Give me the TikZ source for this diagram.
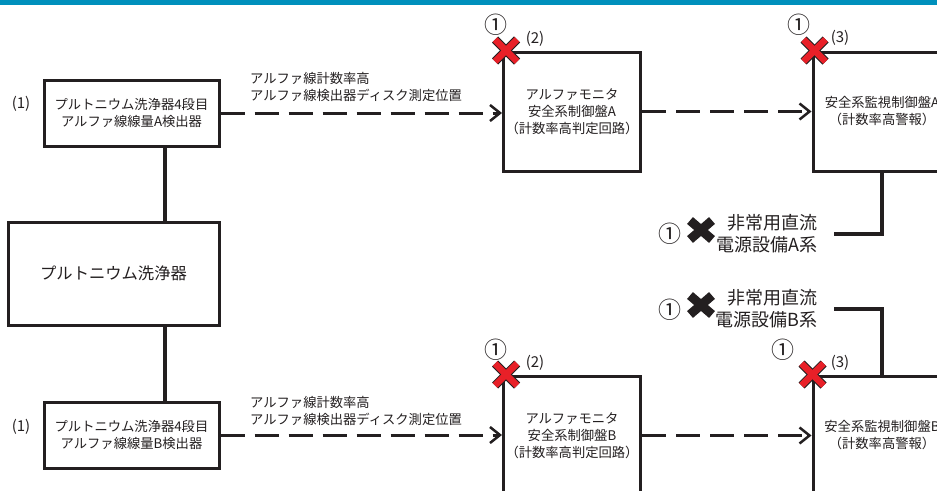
\documentclass[tikz,border=0pt]{standalone}
\usepackage{fontspec}
\setmainfont{Noto Sans CJK JP}
\usetikzlibrary{arrows.meta}

\definecolor{inkdark}{RGB}{35,31,32}
\definecolor{barblue}{RGB}{0,144,188}
\definecolor{failred}{RGB}{232,32,40}

\tikzset{
  unitbox/.style={draw=inkdark, line width=3pt, fill=white, align=center,
    text=inkdark, font=\fontsize{13.3}{17}\selectfont, inner sep=2pt},
  signal/.style={draw=inkdark, line width=3pt, dash pattern=on 24pt off 10pt,
    -{Straight Barb[length=10pt, width=16pt, line width=2.5pt]}},
  wire/.style={draw=inkdark, line width=3.5pt},
  note/.style={text=inkdark, font=\fontsize{13.3}{17}\selectfont, align=left, inner sep=0pt},
  tag/.style={text=inkdark, font=\fontsize{15}{18}\selectfont, inner sep=0pt},
  circ/.style={text=inkdark, font=\fontsize{23}{23}\selectfont, inner sep=0pt},
  power/.style={text=inkdark, font=\fontsize{18}{22}\selectfont, align=right, inner sep=0pt}
}

% red cross on a box corner
\newcommand{\redcross}[1]{%
  \draw[inkdark, line width=8.5pt] ($#1+(-11,-11)$) -- ($#1+(11,11)$);
  \draw[inkdark, line width=8.5pt] ($#1+(-11,11)$) -- ($#1+(11,-11)$);
  \draw[failred, line width=6.5pt] ($#1+(-11,-11)$) -- ($#1+(11,11)$);
  \draw[failred, line width=6.5pt] ($#1+(-11,11)$) -- ($#1+(11,-11)$);
}
\usetikzlibrary{calc}

\begin{document}
\begin{tikzpicture}[x=1pt, y=-1pt]

    % Frame
    \useasboundingbox (0,0) rectangle (937,490);
    \clip (0,0) rectangle (937,490);
    \fill[barblue] (0,0) rectangle (937,5);

    % Detectors and washer
    \node[unitbox, minimum width=175pt, minimum height=66pt] (detA) at (131.5,113)
        {プルトニウム洗浄器4段目\\アルファ線線量A検出器};
    \node[unitbox, minimum width=211pt, minimum height=103pt,
          font=\fontsize{16.3}{20}\selectfont] (washer) at (113.5,273.5) {プルトニウム洗浄器};
    \node[unitbox, minimum width=175pt, minimum height=66pt] (detB) at (131.5,435)
        {プルトニウム洗浄器4段目\\アルファ線線量B検出器};
    \node[tag] (tagA1) at (21,104) {(1)};
    \node[tag] (tagB1) at (21,427) {(1)};

    % Monitor panels
    \node[unitbox, minimum width=136pt, minimum height=119pt] (monA) at (572,111.5)
        {アルファモニタ\\安全系制御盤A\\（計数率高判定回路）};
    \node[unitbox, minimum width=136pt, minimum height=119pt] (monB) at (572,435.5)
        {アルファモニタ\\安全系制御盤B\\（計数率高判定回路）};

    % Supervisory panels
    \node[unitbox, minimum width=138pt, minimum height=119pt] (safeA) at (882,111.5)
        {安全系監視制御盤A\\（計数率高警報）};
    \node[unitbox, minimum width=138pt, minimum height=119pt] (safeB) at (882,435.5)
        {安全系監視制御盤B\\（計数率高警報）};

    % Washer trunk
    \coordinate (trunk) at (165,0);
    \draw[wire] (detA.south -| trunk) -- (washer.north -| trunk);
    \draw[wire] (washer.south -| trunk) -- (detB.north -| trunk);

    % Signal lines
    \draw[signal] (detA.east) -- (detA.east -| monA.west);
    \draw[signal] (monA.east) -- (monA.east -| safeA.west);
    \draw[signal] (detB.east) -- (detB.east -| monB.west);
    \draw[signal] (monB.east) -- (monB.east -| safeB.west);
    \node[note, anchor=west] (sigA) at (250,86.5)
        {アルファ線計数率高\\アルファ線検出器ディスク測定位置};
    \node[note, anchor=west] (sigB) at (250,411)
        {アルファ線計数率高\\アルファ線検出器ディスク測定位置};

    % DC power supplies
    \node[power, anchor=east] (pwrA) at (818,234) {非常用直流\\電源設備A系};
    \node[power, anchor=east] (pwrB) at (818,309) {非常用直流\\電源設備B系};
    \draw[wire, shorten >=16pt] (safeA.south) |- (pwrA.east);
    \draw[wire, shorten >=16pt] (safeB.north) |- (pwrB.east);
    \foreach \y in {230,305} {
      \draw[inkdark, line width=9pt] (690,\y-9.5) -- (712,\y+9.5);
      \draw[inkdark, line width=9pt] (690,\y+9.5) -- (712,\y-9.5);
    }
    \node[circ] (cpA) at (670,234) {①};
    \node[circ] (cpB) at (670,310) {①};

    % Failure marks
    \redcross{([xshift=4pt]monA.north west)}
    \redcross{([xshift=3pt]safeA.north west)}
    \redcross{([xshift=4pt]monB.north west)}
    \redcross{([xshift=1pt]safeB.north west)}
    \node[circ] (cmA) at (496,25) {①};
    \node[circ] (csA) at (799,25) {①};
    \node[circ] (cmB) at (496,350) {①};
    \node[circ] (csB) at (783,350) {①};
    \node[tag] (tagA2) at (535,39) {(2)};
    \node[tag] (tagA3) at (840,38) {(3)};
    \node[tag] (tagB2) at (535,363) {(2)};
    \node[tag] (tagB3) at (840,363) {(3)};

\end{tikzpicture}
\end{document}
